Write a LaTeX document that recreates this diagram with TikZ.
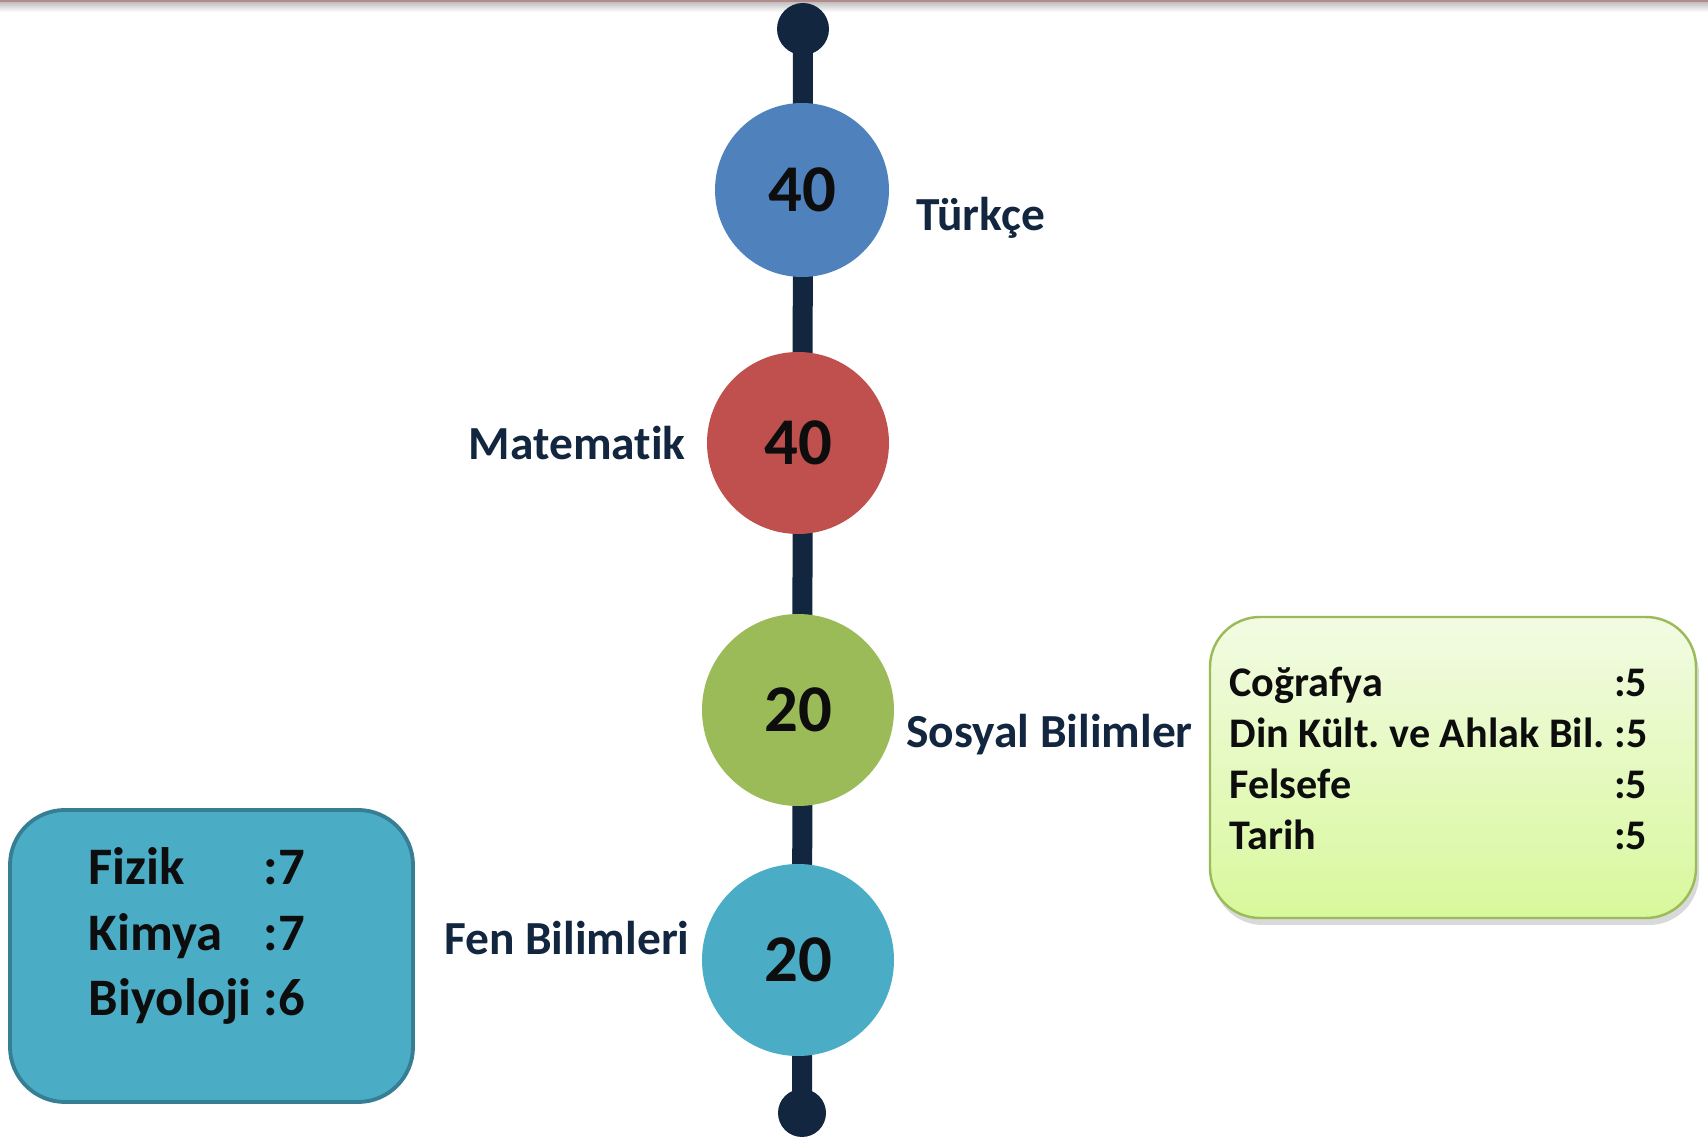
\documentclass[tikz,border=0pt]{standalone}
\usepackage{fontspec}
\setmainfont{Carlito}[Ligatures={NoCommon}]
\frenchspacing
\usetikzlibrary{positioning, calc}
\usetikzlibrary{backgrounds}
\usetikzlibrary{shadows}

\definecolor{navy}{HTML}{12263F}
\definecolor{cblue}{HTML}{4F81BD}
\definecolor{cred}{HTML}{C0504D}
\definecolor{cgreen}{HTML}{9BBB59}
\definecolor{cteal}{HTML}{4BACC6}
\definecolor{tealdark}{HTML}{357E93}
\definecolor{lgtop}{HTML}{F2FBE3}
\definecolor{lgbot}{HTML}{D8F89C}
\definecolor{numblack}{HTML}{0D0D0D}
\definecolor{topred}{HTML}{B48A8A}

\begin{document}
\begin{tikzpicture}

\pgfmathsetmacro{\BW}{0.20}
\pgfmathsetmacro{\DX}{0.2}

\tikzset{
  enddot/.style={circle, fill=navy, inner sep=0pt, minimum size=#1},
  snode/.style={circle, fill=#1, inner sep=0pt, text=numblack,
    font=\fontsize{19}{22}\selectfont\bfseries},
  lbl/.style={inner sep=0pt, text=navy, font=\fontsize{13.5}{16}\selectfont\bfseries},
  bar/.style={draw=navy, line width=\BW cm},
  boxtxt/.style={inner sep=0pt, anchor=west, text=numblack},
}

\useasboundingbox (0,0) rectangle (17.08,-11.38);

% top rule
\shade[top color=black!25, bottom color=white] (0,-0.02) rectangle (17.08,-0.12);
\draw[topred, line width=0.7pt] (0,-0.01) -- (17.08,-0.01);

% timeline
\node [enddot=0.52cm] (tdot) at (8.03,-0.29) {};
\node [snode=cblue, minimum size=1.74cm] (turkce) at (8.02,-1.90) {40};
\node [snode=cred, minimum size=1.82cm] (mat) at (7.98,-4.43) {40};
\node [snode=cgreen, minimum size=1.92cm] (sos) at (7.98,-7.10) {20};
\node [snode=cteal, minimum size=1.92cm] (fen) at (7.98,-9.60) {20};
\node [enddot=0.48cm] (bdot) at (8.02,-11.13) {};

\begin{scope}[on background layer]
\draw [bar] (tdot.center) -- (bdot.center);
\end{scope}

\node [lbl, right=0.26 of turkce, yshift=-0.28cm] (tlbl) {Türkçe};
\node [lbl, left=\DX of mat] (mlbl) {Matematik};
\node [lbl, right=0.11 of sos, yshift=-0.25cm] (slbl) {Sosyal Bilimler};
\node [lbl, left=0.11 of fen, yshift=0.22cm] (flbl) {Fen Bilimleri};

% sosyal box
\node [draw=cgreen, line width=0.7pt, rounded corners=0.5cm,
       top color=lgtop, bottom color=lgbot,
       drop shadow={shadow xshift=0.03cm, shadow yshift=-0.07cm, opacity=0.3},
       minimum width=4.86cm, minimum height=3.01cm] (sosbox) at (14.53,-7.675) {};
\node [boxtxt, font=\fontsize{12}{14.5}\selectfont\bfseries]
      (sostxt) at ($(sosbox.west)+(0.20,0.045)$) {%
  \begin{tabular}{@{}l@{ }l@{}}
  Coğrafya & :5\\
  Din Kült. ve Ahlak Bil. & :5\\
  Felsefe & :5\\
  Tarih & :5
  \end{tabular}};

% fen box
\node [draw=tealdark, fill=cteal, line width=1.1pt, rounded corners=0.55cm,
       minimum width=4.03cm, minimum height=2.92cm] (fenbox) at (2.115,-9.56) {};
\node [boxtxt, font=\fontsize{15}{18.6}\selectfont\bfseries]
      (fentxt) at ($(fenbox.west)+(0.80,0.19)$) {%
  \begin{tabular}{@{}l@{ }l@{}}
  Fizik & :7\\
  Kimya & :7\\
  Biyoloji & :6
  \end{tabular}};

\end{tikzpicture}
\end{document}
